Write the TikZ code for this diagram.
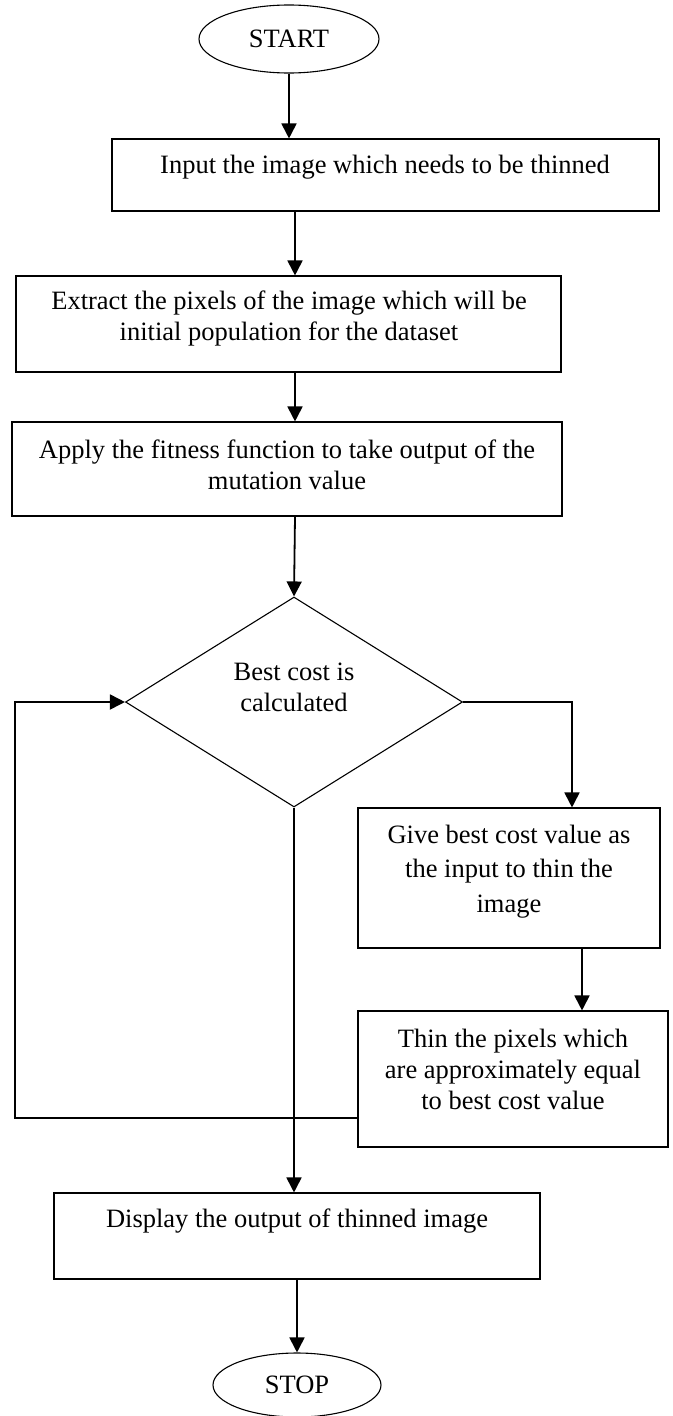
\documentclass[tikz,border=0pt]{standalone}
\usepackage{fontspec}
\setmainfont{Liberation Serif}
\usetikzlibrary{shapes.geometric,arrows.meta}

\tikzset{
  flowbox/.style={draw, line width=1.1pt, inner sep=0pt},
  flowtext/.style={align=center, inner sep=0pt, font=\fontsize{26.5}{31}\selectfont},
  terminal/.style={draw, ellipse, line width=1.1pt, inner sep=0pt, font=\fontsize{26.5}{31}\selectfont},
  arr/.style={line width=1.8pt, -{Triangle[length=15pt,width=15pt]}},
}

\begin{document}
\begin{tikzpicture}[x=1pt,y=-1pt]
  \useasboundingbox (0,0) rectangle (672,1416);

  % terminals
  \node[terminal, minimum width=180pt, minimum height=68pt] (start) at (289,39) {START};
  \node[terminal, minimum width=168pt, minimum height=64pt] (stop) at (297,1385) {STOP};

  % process boxes
  \node[flowbox, minimum width=547pt, minimum height=72pt] (b1) at (385.5,175) {};
  \node[flowbox, minimum width=545pt, minimum height=96pt] (b2) at (288.5,324) {};
  \node[flowbox, minimum width=550pt, minimum height=94pt] (b3) at (287,469) {};
  \node[flowbox, draw, diamond, minimum width=337pt, minimum height=210pt] (dec) at (294,702) {};
  \node[flowbox, minimum width=302pt, minimum height=140pt] (b4) at (509,878) {};
  \node[flowbox, minimum width=310pt, minimum height=136pt] (b5) at (513,1079) {};
  \node[flowbox, minimum width=486pt, minimum height=86pt] (b6) at (297,1236) {};

  % texts
  \node[flowtext] (t1) at (385,167) {Input the image which needs to be thinned};
  \node[flowtext] (t2) at (289,318) {Extract the pixels of the image which will be\\initial population for the dataset};
  \node[flowtext] (t3) at (287,464.5) {Apply the fitness function to take output of the\\mutation value};
  \node[flowtext] (tdec) at (294,687) {Best cost is\\calculated};
  \node[flowtext, font=\fontsize{26.5}{34.5}\selectfont] (t4) at (509,871.5) {Give best cost value as\\the input to thin the\\image};
  \node[flowtext] (t5) at (513,1069) {Thin the pixels which\\are approximately equal\\to best cost value};
  \node[flowtext] (t6) at (297,1221) {Display the output of thinned image};

  % connectors
  \coordinate (spine) at (295,0);
  \coordinate (loopleft) at (15,702);
  \draw[arr] (start.south) -- (start.south |- b1.north);
  \draw[arr] (b1.south -| spine) -- (b2.north -| spine);
  \draw[arr] (b2.south -| spine) -- (b3.north -| spine);
  \draw[arr] (b3.south -| spine) -- (dec.north);
  \draw[arr] (dec.east) -| ([xshift=63pt]b4.north);
  \draw[arr] ([xshift=73pt]b4.south) -- ([xshift=69pt]b5.north);
  \draw[arr] ([yshift=-39pt]b5.west) -| (loopleft) -- (dec.west);
  \draw[arr] (dec.south) -- (dec.south |- b6.north);
  \draw[arr] (b6.south) -- (stop.north);
\end{tikzpicture}
\end{document}
